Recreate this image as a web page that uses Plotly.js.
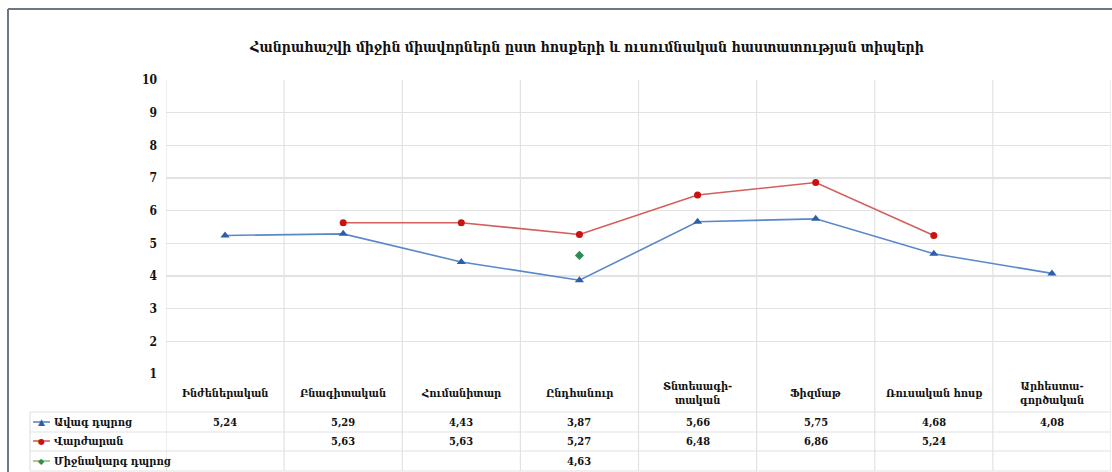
<!DOCTYPE html>
<html>
<head>
<meta charset="utf-8">
<script src="https://cdn.plot.ly/plotly-3.0.1.min.js"></script>
<style>html,body{margin:0;padding:0;background:#fff;}#chart{width:1112px;height:472px;}</style>
</head>
<body>
<div id="chart"></div>
<script>
const titleText = "Հանրահաշվի միջին միավորներն ըստ հոսքերի և ուսումնական հաստատության տիպերի";
const categories = ["Ինժեներական", "Բնագիտական", "Հումանիտար", "Ընդհանուր", "Տնտեսագի-<br>տական", "Ֆիզմաթ", "Ռուսական հոսք", "Արհեստա-<br>գործական"];
const seriesNames = ["Ավագ դպրոց", "Վարժարան", "Միջնակարգ դպրոց"];
const highSchool = [5.24, 5.29, 4.43, 3.87, 5.66, 5.75, 4.68, 4.08];
const specialSchool = [null, 5.63, 5.63, 5.27, 6.48, 6.86, 5.24, null];
const secondarySchool = [null, null, null, 4.63, null, null, null, null];
const yTicks = [1, 2, 3, 4, 5, 6, 7, 8, 9, 10];

const FONT = "DejaVu Serif Condensed, DejaVu Serif, Liberation Serif, serif";
const W = 1112, H = 472;
const mL = 166, mR = 1, mT = 80, mB = 98;
const plotW = W - mL - mR, plotH = H - mT - mB;
const px = p => (p - mL) / plotW;          // pixel x -> paper
const py = p => (H - mB - p) / plotH;      // pixel y -> paper

const lineColors = ["#5a88c8", "#d0605c", "#8fbf6a"];
const markerColors = ["#2f5ea8", "#cc1111", "#2e8b57"];
const markerSymbols = ["triangle-up", "circle", "diamond"];
const markerSizes = [8, 7, 7];
const legendGlyphs = ["▲", "●", "◆"];

const xs = categories.map((_, i) => i);
const seriesData = [highSchool, specialSchool, secondarySchool];
const traces = seriesData.map((arr, k) => ({
  x: xs, y: arr, name: seriesNames[k], mode: "lines+markers", showlegend: false,
  line: {color: lineColors[k], width: 1.6},
  marker: {symbol: markerSymbols[k], size: markerSizes[k], color: markerColors[k]}
}));

const grid = "#e2e2e2";
const shapes = [];
for (let i = 0; i <= categories.length; i++) {
  shapes.push({type: "line", xref: "x", yref: "paper", x0: i - 0.5, x1: i - 0.5, y0: py(471), y1: 1,
    line: {color: grid, width: 1.2}, layer: "below"});
}
[412, 432, 451, 471].forEach(p => {
  shapes.push({type: "line", xref: "paper", yref: "paper", x0: px(30), x1: px(1111), y0: py(p), y1: py(p),
    line: {color: grid, width: 1.2}});
});
shapes.push({type: "line", xref: "paper", yref: "paper", x0: px(30), x1: px(30), y0: py(412), y1: py(471),
  line: {color: grid, width: 1.2}});
shapes.push({type: "line", xref: "paper", yref: "paper", x0: px(8), x1: px(8), y0: py(9), y1: py(475),
  line: {color: "#6e7683", width: 2}});
shapes.push({type: "line", xref: "paper", yref: "paper", x0: px(8), x1: px(1115), y0: py(9), y1: py(9),
  line: {color: "#6e7683", width: 2}});

const fmt = v => v.toFixed(2).replace(".", ",");
const txtFont = {family: FONT, size: 11, color: "#111", weight: "bold"};
const annotations = [];
categories.forEach((c, i) => {
  annotations.push({xref: "x", yref: "paper", x: i, y: py(393), text: c, showarrow: false,
    font: txtFont, xanchor: "center", yanchor: "middle"});
});
const rowY = [422, 441, 461];
seriesData.forEach((arr, k) => {
  arr.forEach((v, i) => {
    if (v === null) return;
    annotations.push({xref: "x", yref: "paper", x: i, y: py(rowY[k]), text: fmt(v), showarrow: false,
      font: txtFont, xanchor: "center", yanchor: "middle"});
  });
  // legend key inside the table
  shapes.push({type: "line", xref: "paper", yref: "paper", x0: px(33), x1: px(50), y0: py(rowY[k]), y1: py(rowY[k]),
    line: {color: lineColors[k], width: 1.6}});
  annotations.push({xref: "paper", yref: "paper", x: px(41.5), y: py(rowY[k]), text: legendGlyphs[k], showarrow: false,
    font: {family: "DejaVu Sans", size: k === 0 ? 9 : 8, color: markerColors[k]}, xanchor: "center", yanchor: "middle"});
  annotations.push({xref: "paper", yref: "paper", x: px(52), y: py(rowY[k]), text: seriesNames[k], showarrow: false,
    font: txtFont, xanchor: "left", yanchor: "middle"});
});

const layout = {
  width: W, height: H,
  margin: {l: mL, r: mR, t: mT, b: mB, pad: 0, autoexpand: false},
  paper_bgcolor: "#fff", plot_bgcolor: "#fff",
  title: {text: titleText, x: px(587), xref: "paper", xanchor: "center", y: 1 - 47 / H, yanchor: "middle",
    font: {family: FONT, size: 14, color: "#111", weight: "bold"}},
  font: {family: FONT, color: "#111"},
  xaxis: {range: [-0.5, categories.length - 0.5], showgrid: false, zeroline: false, showticklabels: false,
    showline: false, ticks: "", fixedrange: true},
  yaxis: {range: [1, 10], tickvals: yTicks, ticktext: yTicks.map(String), showgrid: true, gridcolor: grid,
    gridwidth: 1.2, zeroline: false, showline: false, ticks: "", ticklabelstandoff: 8,
    tickfont: {family: FONT, size: 12, color: "#111", weight: "bold"}, fixedrange: true},
  showlegend: false,
  shapes: shapes,
  annotations: annotations
};

Plotly.newPlot("chart", traces, layout, {displayModeBar: false, staticPlot: true});
</script>
</body>
</html>
